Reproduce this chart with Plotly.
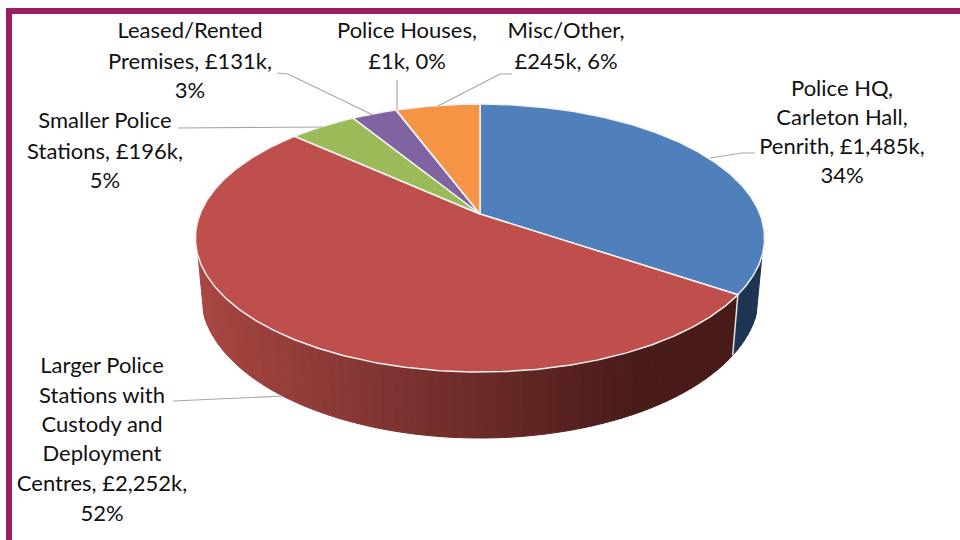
import numpy as np
import plotly.graph_objects as go

categories = ["Police HQ, Carleton Hall, Penrith", "Larger Police Stations with Custody and Deployment Centres",
              "Smaller Police Stations", "Leased/Rented Premises", "Police Houses", "Misc/Other"]
values_k = [1485, 2252, 196, 131, 1, 245]
slice_colors = ["#4F80BC", "#BE4F4C", "#9BBB59", "#8064A2", "#4BACC6", "#F59445"]
label_lines = [
    ["Police HQ,", "Carleton Hall,", "Penrith, £1,485k,", "34%"],
    ["Larger Police", "Stations with", "Custody and", "Deployment", "Centres, £2,252k,", "52%"],
    ["Smaller Police", "Stations, £196k,", "5%"],
    ["Leased/Rented", "Premises, £131k,", "3%"],
    ["Police Houses,", "£1k, 0%"],
    ["Misc/Other,", "£245k, 6%"],
]
label_x = [842, 102, 105, 190, 407, 566]
label_y = [[90, 119, 148, 177], [367, 397, 426, 455, 485, 515], [122, 153, 182],
           [32, 63, 92], [32, 63], [32, 63]]
leaders = [
    ([755, 742, 710], [153, 153, 158]),
    ([173, 283], [401, 396]),
    ([178, 323], [128, 127]),
    ([277, 288, 373], [73, 74, 115]),
    ([397, 397], [80, 110]),
    ([512, 500, 438], [74, 74, 106]),
]

CX, CY, A, B, K = 480, 214, 280, 129.7, 0.179
BASE_Y, BASE_SX, BASE_SY = 269, 0.98, 1.07


def top(theta):
    t = np.radians(theta)
    w = 1 + K * np.cos(t)
    return CX + A * np.sin(t) / w, CY - B * np.cos(t) / w


def base(theta):
    t = np.radians(theta)
    w = 1 + K * np.cos(t)
    return CX + BASE_SX * A * np.sin(t) / w, BASE_Y - BASE_SY * B * np.cos(t) / w


def mix(c0, c1, f):
    f = min(max(f, 0), 1)
    return "rgb(%d,%d,%d)" % tuple(round(a + (b - a) * f) for a, b in zip(c0, c1))


total = sum(values_k)
edges = np.concatenate([[0], np.cumsum(values_k)]) / total * 360

fig = go.Figure()


def add_wall(t0, t1, colour_at):
    n = max(int((t1 - t0) / 2), 1)
    ts = np.linspace(t0, t1, n + 1)
    for a, b in zip(ts[:-1], ts[1:]):
        xa, ya = top(a)
        xb, yb = top(b)
        xc, yc = base(b)
        xd, yd = base(a)
        col = colour_at((xa + xb) / 2)
        fig.add_trace(go.Scatter(x=[xa, xb, xc, xd, xa], y=[ya, yb, yc, yd, ya], mode="lines",
                                 fill="toself", fillcolor=col, line=dict(color=col, width=1),
                                 hoverinfo="skip", showlegend=False))


add_wall(108, edges[1], lambda x: "#1D3553")
add_wall(edges[1], 252, lambda x: mix((168, 70, 66), (72, 27, 25), (x - 200) / 440))

# white seams on the wall
xs, ys = zip(top(edges[1]), base(edges[1]))
fig.add_trace(go.Scatter(x=xs, y=ys, mode="lines", line=dict(color="#E4E4E4", width=1.5),
                         hoverinfo="skip", showlegend=False))

# top face
for i, name in enumerate(categories):
    ts = np.linspace(edges[i], edges[i + 1], max(int(edges[i + 1] - edges[i]) * 2, 2))
    px, py = top(ts)
    fig.add_trace(go.Scatter(x=np.r_[CX, px, CX], y=np.r_[CY, py, CY], mode="lines", fill="toself",
                             fillcolor=slice_colors[i], line=dict(color="#F2F2F2", width=1.5),
                             name=name, text=f"{name}: £{values_k[i]:,}k", hoverinfo="text",
                             showlegend=False))

# leaders
for lx, ly in leaders:
    fig.add_trace(go.Scatter(x=lx, y=ly, mode="lines", line=dict(color="#A6A6A6", width=1.2),
                             hoverinfo="skip", showlegend=False))

# labels
for i, lines in enumerate(label_lines):
    fig.add_trace(go.Scatter(x=[label_x[i]] * len(lines), y=label_y[i], mode="text", text=lines,
                             textposition="middle center",
                             textfont=dict(family="Lato", size=22, color="#111111"),
                             hoverinfo="skip", showlegend=False))

fig.update_layout(
    width=960, height=540, margin=dict(l=0, r=0, t=0, b=0),
    paper_bgcolor="white", plot_bgcolor="white",
    xaxis=dict(range=[0, 960], visible=False, fixedrange=True),
    yaxis=dict(range=[540, 0], visible=False, fixedrange=True),
    shapes=[dict(type="rect", xref="x", yref="y", x0=9, y0=11, x1=990, y1=570,
                 line=dict(color="#9B1D63", width=6), fillcolor="rgba(0,0,0,0)", layer="below")],
)
fig.write_html("out.html", config={"displayModeBar": False},
               post_script="document.body.style.margin='0';document.body.style.overflow='hidden';")
